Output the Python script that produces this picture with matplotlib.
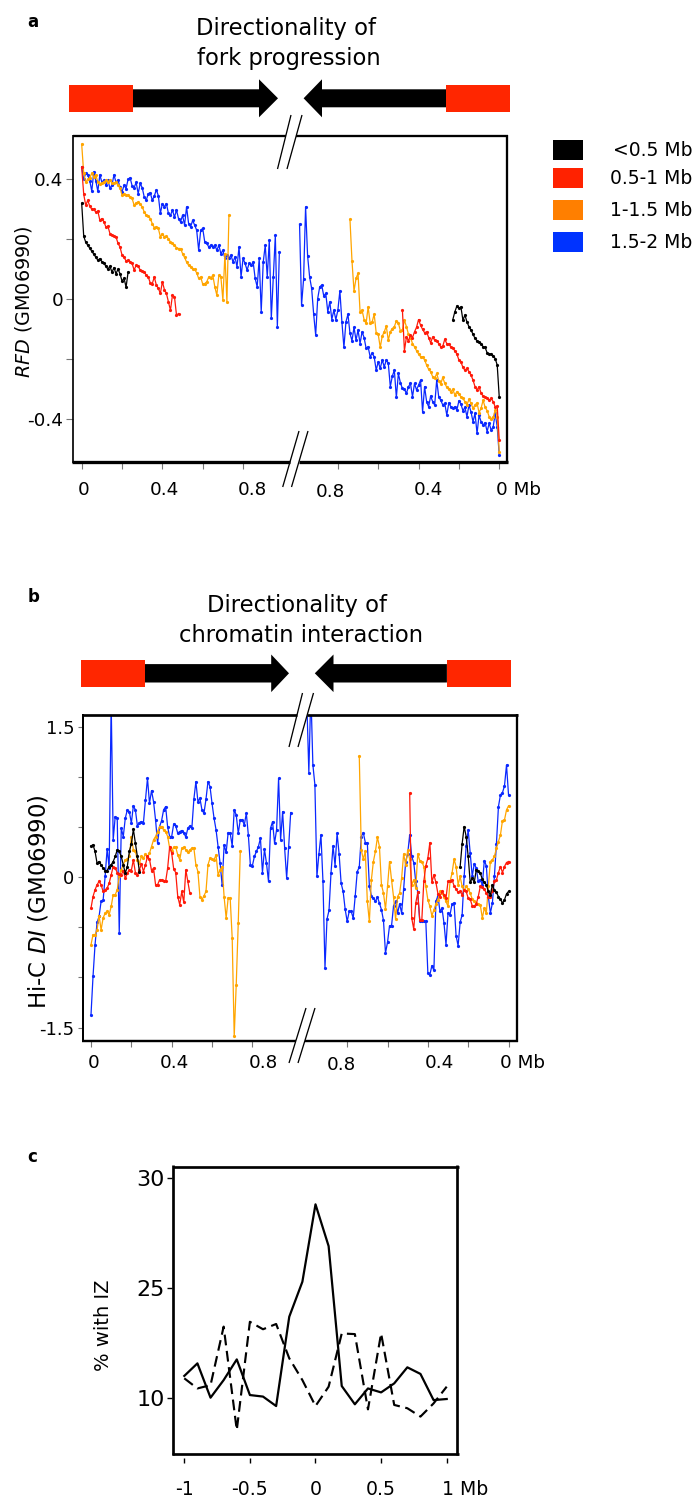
import numpy as np
import matplotlib
matplotlib.use("Agg")
import matplotlib.pyplot as plt
from matplotlib.patches import Polygon
from matplotlib.lines import Line2D

plt.rcParams['font.family'] = ['DejaVu Sans']
plt.rcParams['mathtext.fontset'] = 'dejavusans'

# ------------------------------------------------------------------ data
STEP = 0.01          # Mb between consecutive bins
R_ORIGIN = 2.07      # plot coordinate of the right-hand domain border (0 Mb)

size_classes = ['<0.5 Mb', '0.5-1 Mb', '1-1.5 Mb', '1.5-2 Mb']
line_colors = ['#000000', '#FF1A0A', '#FFA500', '#0A28FF']
legend_colors = ['#000000', '#FF2200', '#FF7F00', '#0033FF']

# panel a: RFD, left border -> inward (distance increasing)
rfd_left_black = [0.32, 0.21, 0.19, 0.18, 0.17, 0.16, 0.15, 0.14, 0.13, 0.135,
                  0.125, 0.12, 0.11, 0.10, 0.11, 0.09, 0.105, 0.085, 0.10, 0.085,
                  0.06, 0.07, 0.04, 0.09]
rfd_left_red = [0.44, 0.35, 0.313, 0.33, 0.31, 0.30, 0.30, 0.29, 0.294, 0.263,
                0.269, 0.258, 0.241, 0.243, 0.219, 0.215, 0.21, 0.208, 0.186, 0.174,
                0.147, 0.139, 0.128, 0.13, 0.125, 0.119, 0.097, 0.113, 0.11, 0.097,
                0.094, 0.091, 0.08, 0.074, 0.054, 0.052, 0.074, 0.047, 0.036, 0.019,
                0.058, 0.032, 0.019, -0.009, -0.037, 0.013, 0.008, -0.053, -0.048]
rfd_left_orange = [0.517, 0.42, 0.39, 0.40, 0.405, 0.42, 0.408, 0.415, 0.39, 0.385,
                   0.388, 0.391, 0.397, 0.391, 0.397, 0.388, 0.386, 0.391, 0.38, 0.372,
                   0.347, 0.352, 0.347, 0.347, 0.341, 0.336, 0.313, 0.321, 0.324, 0.317,
                   0.308, 0.291, 0.28, 0.277, 0.269, 0.252, 0.239, 0.241, 0.236, 0.208,
                   0.219, 0.208, 0.21, 0.202, 0.191, 0.186, 0.18, 0.172, 0.169, 0.169,
                   0.152, 0.139, 0.124, 0.113, 0.108, 0.102, 0.099, 0.088, 0.069, 0.074,
                   0.05, 0.052, 0.058, 0.074, 0.069, 0.08, 0.041, 0.013, 0.08, 0.074,
                   -0.003, 0.152, -0.009, 0.28]
rfd_left_blue = [0.441, 0.40, 0.42, 0.415, 0.395, 0.36, 0.425, 0.395, 0.36, 0.415,
                 0.39, 0.397, 0.38, 0.397, 0.37, 0.38, 0.415, 0.39, 0.397, 0.374,
                 0.358, 0.38, 0.369, 0.40, 0.405, 0.378, 0.372, 0.39, 0.352, 0.386,
                 0.372, 0.341, 0.33, 0.352, 0.355, 0.33, 0.344, 0.365, 0.345, 0.286,
                 0.319, 0.308, 0.319, 0.286, 0.28, 0.297, 0.274, 0.297, 0.269, 0.258,
                 0.28, 0.247, 0.308, 0.252, 0.241, 0.263, 0.247, 0.23, 0.163, 0.23,
                 0.236, 0.191, 0.186, 0.174, 0.18, 0.174, 0.18, 0.163, 0.18, 0.152,
                 0.163, 0.136, 0.147, 0.136, 0.147, 0.124, 0.141, 0.108, 0.174, 0.074,
                 0.136, 0.119, 0.097, 0.119, 0.113, 0.124, 0.069, 0.041, 0.136, -0.042,
                 0.124, 0.18, 0.074, 0.197, -0.064, 0.074, 0.213, -0.092, 0.158]
# panel a: RFD, right side, listed left to right (last value at the right border)
rfd_right_black = [-0.068, -0.042, -0.023, -0.031, -0.026, -0.07, -0.053, -0.076, -0.092, -0.103,
                   -0.117, -0.131, -0.139, -0.142, -0.148, -0.159, -0.161, -0.179, -0.183, -0.183,
                   -0.19, -0.198, -0.22, -0.326]
rfd_right_red = [-0.037, -0.172, -0.126, -0.139, -0.12, -0.128, -0.109, -0.094, -0.068, -0.087,
                 -0.101, -0.112, -0.109, -0.128, -0.146, -0.126, -0.137, -0.139, -0.148, -0.159,
                 -0.157, -0.134, -0.148, -0.15, -0.159, -0.164, -0.172, -0.183, -0.203, -0.209,
                 -0.228, -0.237, -0.231, -0.242, -0.253, -0.27, -0.292, -0.303, -0.292, -0.314,
                 -0.323, -0.328, -0.331, -0.337, -0.331, -0.342, -0.359, -0.357, -0.47]
rfd_right_orange = [0.266, 0.128, 0.027, 0.069, 0.086, -0.042, -0.037, -0.068, -0.081, -0.026,
                    -0.079, -0.076, -0.05, -0.112, -0.117, -0.161, -0.123, -0.109, -0.09, -0.137,
                    -0.109, -0.098, -0.092, -0.072, -0.079, -0.106, -0.103, -0.07, -0.092, -0.117,
                    -0.128, -0.148, -0.159, -0.172, -0.183, -0.192, -0.192, -0.203, -0.22, -0.234,
                    -0.242, -0.259, -0.264, -0.248, -0.272, -0.283, -0.261, -0.281, -0.294, -0.301,
                    -0.309, -0.301, -0.32, -0.309, -0.317, -0.326, -0.331, -0.342, -0.353, -0.334,
                    -0.348, -0.364, -0.353, -0.346, -0.379, -0.364, -0.337, -0.361, -0.372, -0.392,
                    -0.399, -0.394, -0.37, -0.392, -0.509]
rfd_right_blue = [0.25, -0.02, 0.066, 0.308, 0.144, 0.074, 0.036, -0.05, -0.12, 0.002,
                  0.041, 0.047, 0.011, 0.019, -0.042, -0.009, -0.068, -0.037, -0.068, -0.037,
                  0.028, -0.076, -0.161, -0.076, -0.05, -0.114, -0.139, -0.094, -0.137, -0.103,
                  -0.148, -0.109, -0.128, -0.164, -0.159, -0.192, -0.181, -0.192, -0.237, -0.209,
                  -0.231, -0.203, -0.226, -0.203, -0.214, -0.292, -0.257, -0.237, -0.328, -0.248,
                  -0.279, -0.298, -0.301, -0.314, -0.292, -0.281, -0.326, -0.281, -0.303, -0.287,
                  -0.27, -0.376, -0.292, -0.342, -0.359, -0.323, -0.342, -0.353, -0.27, -0.326,
                  -0.337, -0.353, -0.348, -0.387, -0.346, -0.359, -0.364, -0.359, -0.37, -0.339,
                  -0.35, -0.372, -0.361, -0.392, -0.353, -0.376, -0.409, -0.381, -0.448, -0.387,
                  -0.409, -0.42, -0.412, -0.442, -0.414, -0.437, -0.426, -0.381, -0.426, -0.52]

# panel b: Hi-C DI
di_left_black = [0.312, 0.322, 0.256, 0.139, 0.156, 0.123, 0.09, 0.066, 0.066, 0.106,
                 0.123, 0.156, 0.206, 0.272, 0.256, 0.206, 0.123, 0.04, 0.106, 0.256,
                 0.332, 0.478, 0.339, 0.206, 0.056]
di_left_red = [-0.309, -0.193, -0.126, -0.076, -0.043, -0.076, -0.143, -0.126, -0.11, -0.06,
               0.023, 0.106, 0.09, 0.046, 0.033, 0.023, 0.066, -0.01, 0.04, 0.073,
               0.066, 0.173, 0.046, 0.023, 0.073, 0.133, 0.056, 0.123, 0.206, 0.179,
               0.066, 0.09, -0.076, -0.076, -0.027, -0.027, -0.043, -0.043, 0.09, 0.305,
               0.239, 0.08, 0.046, -0.193, -0.276, -0.143, -0.252, 0.073, -0.043, -0.159]
di_left_orange = [-0.674, -0.574, -0.574, -0.525, -0.385, -0.525, -0.408, -0.359, -0.342, -0.375,
                  -0.292, -0.176, -0.176, -0.126, 0.007, 0.073, 0.123, 0.173, 0.179, 0.206,
                  0.405, 0.272, 0.256, 0.173, 0.139, 0.206, 0.189, 0.232, 0.199, 0.239,
                  0.305, 0.372, 0.405, 0.455, 0.505, 0.505, 0.471, 0.455, 0.405, 0.289,
                  0.256, 0.299, 0.299, 0.222, 0.173, 0.289, 0.299, 0.272, 0.246, 0.272,
                  0.289, 0.289, 0.123, 0.056, -0.193, -0.226, -0.186, -0.143, 0.123, 0.189,
                  0.179, 0.173, 0.222, 0.023, 0.073, 0.106, -0.199, -0.408, -0.209, -0.209,
                  -0.608, -1.587, -1.072, -0.458, 0.256]
di_left_blue = [-1.371, -0.989, -0.674, -0.452, -0.392, -0.242, -0.232, 0.007, 0.282, 0.09,
                1.75, 0.372, 0.604, 0.588, -0.558, 0.488, 0.405, 0.588, 0.671, 0.654,
                0.538, 0.711, 0.671, 0.511, 0.544, 0.554, 0.544, 0.77, 0.986, 0.737,
                0.863, 0.754, 0.571, 0.339, 0.505, 0.564, 0.671, 0.704, 0.498, 0.405,
                0.405, 0.531, 0.511, 0.438, 0.455, 0.465, 0.445, 0.398, 0.488, 0.511,
                0.488, 0.777, 0.953, 0.754, 0.787, 0.671, 0.637, 0.777, 0.953, 0.903,
                0.737, 0.588, 0.471, 0.305, 0.139, -0.076, 0.322, 0.246, 0.445, 0.438,
                0.312, 0.671, 0.621, 0.438, 0.571, 0.571, 0.521, 0.637, 0.422, 0.123,
                0.113, 0.206, 0.256, 0.305, 0.388, 0.046, 0.279, 0.139, -0.043, 0.488,
                0.554, 0.339, 0.471, 0.986, 0.372, 0.654, 0.289, -0.01, 0.305, 0.644]
di_right_black = [0.1, 0.332, 0.505, 0.405, 0.206, -0.053, -0.01, -0.053, 0.073, 0.066,
                  0.04, -0.02, -0.053, -0.076, -0.143, -0.176, -0.076, -0.133, -0.153, -0.193,
                  -0.219, -0.259, -0.226, -0.166, -0.143]
di_right_red = [0.837, -0.408, -0.518, -0.259, -0.153, -0.432, -0.432, -0.043, 0.113, 0.189,
                0.345, -0.053, 0.023, -0.053, -0.166, -0.193, -0.143, -0.176, -0.209, -0.043,
                -0.043, -0.027, -0.086, -0.12, -0.153, -0.143, -0.176, -0.126, -0.143, -0.209,
                -0.219, -0.286, -0.292, -0.266, -0.193, -0.093, -0.1, -0.12, -0.159, -0.199,
                -0.193, -0.143, -0.043, -0.027, 0.046, 0.106, 0.046, 0.106, 0.146, 0.156]
di_right_orange = [1.208, 0.272, 0.179, 0.256, -0.242, -0.442, -0.027, 0.156, 0.256, 0.398,
                   0.305, -0.076, -0.159, -0.319, -0.093, 0.156, -0.027, -0.199, -0.418, -0.193,
                   -0.159, -0.01, 0.232, 0.123, 0.266, 0.179, -0.076, -0.027, -0.11, 0.232,
                   0.166, 0.156, 0.106, -0.093, -0.226, -0.292, -0.385, -0.325, -0.266, -0.226,
                   -0.143, -0.159, -0.193, -0.242, -0.292, -0.043, 0.04, 0.179, 0.106, -0.076,
                   0.007, -0.093, -0.133, -0.093, -0.12, -0.159, -0.219, -0.242, -0.259, -0.266,
                   -0.276, -0.408, -0.309, -0.359, -0.093, 0.156, 0.173, 0.206, 0.289, 0.355,
                   0.422, 0.564, 0.571, 0.671, 0.711]
di_right_blue = [1.75, 1.043, 1.85, 1.12, 0.92, 0.007, 0.232, 0.422, -0.043, -0.906,
                 -0.418, -0.332, 0.046, 0.312, 0.113, 0.438, 0.232, -0.06, -0.143, -0.319,
                 -0.442, -0.342, -0.342, -0.408, -0.186, 0.056, 0.1, 0.405, 0.445, 0.345,
                 0.339, -0.086, -0.186, -0.209, -0.242, -0.199, -0.259, -0.325, -0.432, -0.757,
                 -0.651, -0.485, -0.485, -0.286, -0.242, -0.359, -0.266, -0.359, -0.12, 0.156,
                 0.232, 0.422, 0.206, 0.146, -0.043, -0.153, -0.442, -0.442, -0.442, -0.442,
                 -0.956, -0.973, -0.883, -0.93, -0.242, -0.186, -0.342, -0.309, -0.458, -0.674,
                 -0.359, -0.375, -0.266, -0.259, -0.584, -0.684, -0.452, -0.375, 0.007, 0.312,
                 0.471, 0.239, 0.007, 0.133, 0.09, -0.043, -0.027, -0.076, 0.166, 0.113,
                 -0.193, -0.359, -0.259, 0.007, 0.332, 0.704, 0.82, 0.843, 0.91, 1.119,
                 0.82]

# panel c
c_pos = [-1.0, -0.9, -0.8, -0.7, -0.6, -0.5, -0.4, -0.3, -0.2, -0.1, 0.0,
         0.1, 0.2, 0.3, 0.4, 0.5, 0.6, 0.7, 0.8, 0.9, 1.0]
c_solid = [21.02, 21.59, 20.03, 20.83, 21.77, 20.15, 20.08, 19.65, 23.71, 25.30, 28.82,
           26.92, 20.56, 19.73, 20.45, 20.27, 20.68, 21.41, 21.11, 19.92, 19.97]
c_dashed = [20.91, 20.45, 20.6, 23.26, 18.56, 23.48, 23.14, 23.38, 21.82, 20.83, 19.65,
            20.53, 22.95, 22.92, 19.5, 22.95, 19.7, 19.55, 19.17, 19.77, 20.53]
c_yticks = [30, 25, 20]
c_yticklabels = ['30', '25', '10']
c_xticks = [-1, -0.5, 0, 0.5, 1]
c_xticklabels = ['-1', '-0.5', '0', '0.5', '']

# ------------------------------------------------------------------ helpers
W, H = 697, 1499
fig = plt.figure(figsize=(W / 100, H / 100), dpi=100)


def fx(x):
    return x / W


def fy(y):
    return 1 - y / H


def add_axes(l, t, r, b):
    return fig.add_axes([fx(l), fy(b), (r - l) / W, (b - t) / H])


def fline(xs, ys, lw_px, color='black'):
    fig.add_artist(Line2D([fx(x) for x in xs], [fy(y) for y in ys],
                          lw=lw_px * 0.72, color=color, solid_capstyle='butt'))


def fpoly(pts, color):
    fig.add_artist(Polygon([(fx(x), fy(y)) for x, y in pts], closed=True,
                           facecolor=color, edgecolor='none'))


def ftext(x, y, s, **kw):
    fig.text(fx(x), fy(y), s, **kw)


def x_on(line, y):
    (x0, y0), (x1, y1) = line
    return x0 + (y - y0) * (x1 - x0) / (y1 - y0)


def brk(l1, l2, yc, half=4.5):
    ya, yb = yc - half, yc + half
    fpoly([(x_on(l1, ya), ya), (x_on(l2, ya), ya), (x_on(l2, yb), yb), (x_on(l1, yb), yb)], 'white')
    for ln in (l1, l2):
        fline([ln[0][0], ln[1][0]], [ln[0][1], ln[1][1]], 1.3)


def header(yc, bh, sh, hh, b1l, b1r, hbl, tl, tr, hbr, b2l, b2r):
    fpoly([(b1r, yc - sh), (hbl, yc - sh), (hbl, yc - hh), (tl, yc), (hbl, yc + hh),
           (hbl, yc + sh), (b1r, yc + sh)], 'black')
    fpoly([(b2l, yc - sh), (hbr, yc - sh), (hbr, yc - hh), (tr, yc), (hbr, yc + hh),
           (hbr, yc + sh), (b2l, yc + sh)], 'black')
    fpoly([(b1l, yc - bh), (b1r, yc - bh), (b1r, yc + bh), (b1l, yc + bh)], '#FF2600')
    fpoly([(b2l, yc - bh), (b2r, yc - bh), (b2r, yc + bh), (b2l, yc + bh)], '#FF2600')


def frame(l, t, r, b, lw_top, lw_bot, lw_left, lw_right, top_gap=None, bot_gap=None):
    if top_gap:
        fline([l, top_gap[0]], [t, t], lw_top)
        fline([top_gap[1], r + lw_right / 2], [t, t], lw_top)
    else:
        fline([l, r + lw_right / 2], [t, t], lw_top)
    if bot_gap:
        fline([l - lw_left / 2, bot_gap[0]], [b, b], lw_bot)
        fline([bot_gap[1], r + lw_right / 2], [b, b], lw_bot)
    else:
        fline([l - lw_left / 2, r + lw_right / 2], [b, b], lw_bot)
    fline([l, l], [t - lw_top / 2, b + lw_bot / 2], lw_left)
    fline([r, r], [t - lw_top / 2, b + lw_bot / 2], lw_right)


def draw_split(ax, left_sets, right_sets):
    for i in [3, 2, 1, 0]:
        lv = left_sets[i]
        rv = right_sets[i]
        dl = np.arange(len(lv)) * STEP
        dr = np.arange(len(rv))[::-1] * STEP
        ax.plot(dl, lv, '-o', color=line_colors[i], lw=0.9, ms=2.3, mew=0)
        ax.plot(R_ORIGIN - dr, rv, '-o', color=line_colors[i], lw=0.9, ms=2.3, mew=0)


split_ticks = [0, 0.2, 0.4, 0.6, 0.8]
split_xticks = split_ticks + [R_ORIGIN - d for d in split_ticks[::-1]]

# ------------------------------------------------------------------ panel a
ftext(27, 27, 'a', fontsize=12, fontweight='bold', ha='left', va='baseline')
ftext(286, 35, 'Directionality of', fontsize=16.3, ha='center', va='baseline')
ftext(289, 65, 'fork progression', fontsize=16.3, ha='center', va='baseline')
header(98.3, 13.3, 9.0, 19.0, 69, 133, 259, 278, 303.6, 322, 446, 510)

axA = add_axes(73.3, 136.2, 507.3, 461.7)
draw_split(axA,
           [rfd_left_black, rfd_left_red, rfd_left_orange, rfd_left_blue],
           [rfd_right_black, rfd_right_red, rfd_right_orange, rfd_right_blue])
axA.set_xlim(-0.0416, 2.110)
axA.set_ylim(-0.5423, 0.5437)
axA.set_xticks(split_xticks)
axA.set_yticks([0.4, 0.2, 0, -0.2, -0.4])
axA.set_yticklabels(['0.4', '', '0', '', '-0.4'])
axA.tick_params(axis='x', labelbottom=False, length=4.7, width=0.8, color='#777777')
axA.tick_params(axis='y', length=4.75, width=0.8, color='#777777', pad=2.4, labelsize=13.2)
for s in axA.spines.values():
    s.set_visible(False)
frame(73.3, 136.2, 507.3, 461.7, 2.3, 3.3, 1.7, 2.3,
      top_gap=(285.7, 296.2), bot_gap=(290.1, 299.0))
brk(((277.5, 169), (291, 115)), ((287, 169), (302, 115)), 136.2)
brk(((282.7, 487), (299, 431)), ((291.5, 487), (308, 431)), 461.7)
for xc, lab, yy in [(83.5, '0', 490), (164, '0.4', 490), (252.5, '0.8', 490),
                    (330.3, '0.8', 491.7), (428.1, '0.4', 490)]:
    ftext(xc, yy, lab, fontsize=13.2, ha='center', va='center')
ftext(496.3, 490, '0 Mb', fontsize=13.2, ha='left', va='center')
ftext(23.3, 301.5, r'$\mathit{RFD}$ (GM06990)', fontsize=13.8, rotation=90,
      ha='center', va='center')

# legend
sq_tops = [140, 168.3, 200, 231.7]
for col, lab, top in zip(legend_colors, size_classes, sq_tops):
    fpoly([(553, top), (583, top), (583, top + 19.8), (553, top + 19.8)], col)
    ftext(692.7, top + 10.5, lab, fontsize=13.5, ha='right', va='center')

# ------------------------------------------------------------------ panel b
ftext(27.6, 601.7, 'b', fontsize=12, fontweight='bold', ha='left', va='baseline')
ftext(297, 612.3, 'Directionality of', fontsize=16.3, ha='center', va='baseline')
ftext(301, 641.7, 'chromatin interaction', fontsize=16.3, ha='center', va='baseline')
header(673.3, 13.3, 9.2, 18.8, 80.9, 145, 271.2, 289, 314.8, 333.5, 446.9, 511.3)

axB = add_axes(83.3, 715, 517.3, 1041)
draw_split(axB,
           [di_left_black, di_left_red, di_left_orange, di_left_blue],
           [di_right_black, di_right_red, di_right_orange, di_right_blue])
axB.set_xlim(-0.0382, 2.1135)
axB.set_ylim(-1.634, 1.617)
axB.set_xticks(split_xticks)
axB.set_yticks([1.5, 1.0, 0.5, 0, -0.5, -1.0, -1.5])
axB.set_yticklabels(['1.5', '', '', '0', '', '', '-1.5'])
axB.tick_params(axis='x', labelbottom=False, length=4.1, width=0.8, color='#777777')
axB.tick_params(axis='y', length=3.4, width=0.8, color='#777777', pad=3.0, labelsize=13.0)
for s in axB.spines.values():
    s.set_visible(False)
frame(83.3, 715, 517.3, 1041, 2.7, 2.4, 2.0, 2.3,
      top_gap=(297.0, 307.2), bot_gap=(295.8, 304.8))
brk(((289, 747), (302.5, 693)), ((298, 747), (313.5, 693)), 715)
brk(((289, 1063), (306, 1008)), ((298, 1063), (315, 1008)), 1041)
for xc, lab, yy in [(94.1, '0', 1063.3), (174.6, '0.4', 1063.3), (263.5, '0.8', 1063.3),
                    (341.3, '0.8', 1065), (439.2, '0.4', 1063.3)]:
    ftext(xc, yy, lab, fontsize=13.2, ha='center', va='center')
ftext(500.2, 1063.3, '0 Mb', fontsize=13.2, ha='left', va='center')
ftext(38.5, 902.0, r'Hi-C $\mathit{DI}$ (GM06990)', fontsize=16.5, rotation=90,
      ha='center', va='center')

# ------------------------------------------------------------------ panel c
ftext(27.3, 1161.7, 'c', fontsize=12, fontweight='bold', ha='left', va='baseline')
axC = add_axes(173.3, 1166.7, 457.3, 1454)
axC.plot(c_pos, c_dashed, color='black', lw=1.55, linestyle=(0, (5, 2.6)))
axC.plot(c_pos, c_solid, color='black', lw=1.6)
axC.set_xlim(-1.0838, 1.0808)
axC.set_ylim(17.47, 30.53)
axC.set_yticks(c_yticks)
axC.set_yticklabels(c_yticklabels)
axC.set_xticks(c_xticks)
axC.set_xticklabels(c_xticklabels)
axC.spines['left'].set_position(('outward', 1.2))
axC.spines['bottom'].set_position(('outward', 2.9))
axC.tick_params(axis='y', length=3.6, width=1.0, pad=1.3, labelsize=16)
axC.tick_params(axis='x', length=3.6, width=1.0, pad=12.5, labelsize=13.6)
for s in axC.spines.values():
    s.set_visible(False)
frame(173.3, 1166.7, 457.3, 1454, 2.7, 2.7, 2.7, 2.7)
ftext(441.6, 1489.5, '1 Mb', fontsize=13.6, ha='left', va='center')
ftext(103.3, 1325.7, '% with IZ', fontsize=14, rotation=90, ha='center', va='center')

fig.savefig('out.png', dpi=100)
